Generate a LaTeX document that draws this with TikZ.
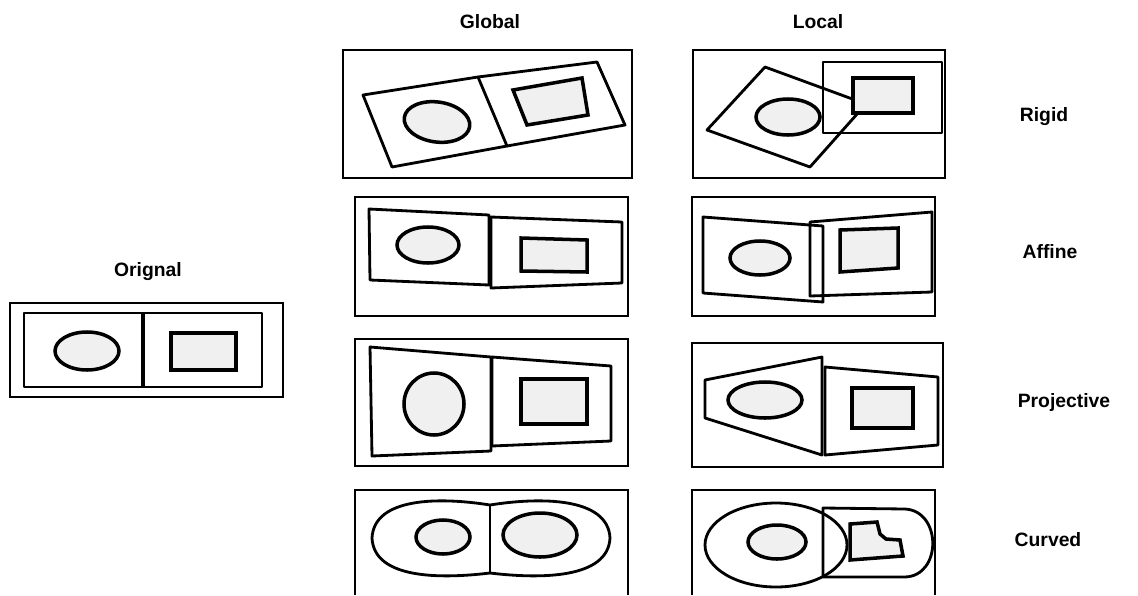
\documentclass[tikz,border=0pt]{standalone}
\usepackage{fontspec}
\setmainfont{Liberation Sans}
\usetikzlibrary{positioning}

\begin{document}
\begin{tikzpicture}[x=0.02cm, y=-0.02cm,
  frame/.style={draw, line width=1.1pt},
  part/.style={draw, line width=1.6pt, line join=round},
  blob/.style={draw, line width=2pt, fill=gray!12},
  lbl/.style={font=\bfseries\fontsize{11}{13}\selectfont}]
  \useasboundingbox (0,0) rectangle (1138,595);
  % headings
  \node[lbl] (glob) at (490,22) {Global};
  \node[lbl] (loc) at (818,22) {Local};
  \node[lbl] (orig) at (148,272) {Orignal};
  \node[lbl] (rigid) at (1044,117) {Rigid};
  \node[lbl] (affine) at (1050,252) {Affine};
  \node[lbl] (proj) at (1064,402) {Projective};
  \node[lbl] (curved) at (1048,540) {Curved};
  % original
  \draw[frame, line width=1.6pt] (10,303) rectangle (283,397);
  \draw[part] (24,313) rectangle (262,387);
  \draw[part, line width=2.2pt] (143,313) -- (143,387);
  \draw[blob] (87,351) ellipse [x radius=32, y radius=19];
  \draw[blob] (171,333) rectangle (236,370);
  % rigid, global
  \draw[frame] (343,50) rectangle (632,178);
  \draw[part] (363,95) -- (478,77) -- (507,146) -- (392,167) -- cycle;
  \draw[part] (478,77) -- (597,62) -- (625,125) -- (507,146);
  \draw[blob, rotate around={-8:(437,122)}] (437,122) ellipse [x radius=33, y radius=20];
  \draw[blob] (513,90) -- (582,78) -- (588,115) -- (527,125) -- cycle;
  % rigid, local
  \draw[frame] (693,50) rectangle (945,178);
  \draw[part] (823,62) rectangle (942,133);
  \draw[part] (765,67) -- (866,104) -- (810,167) -- (707,130) -- cycle;
  \draw[blob] (788,117) ellipse [x radius=32, y radius=18];
  \draw[blob, line width=2.6pt] (853,78) rectangle (913,113);
  % affine, global
  \draw[frame] (355,197) rectangle (628,316);
  \draw[part] (369,209) -- (489,215) -- (489,285) -- (370,280) -- cycle;
  \draw[part] (491,217) -- (622,222) -- (622,283) -- (491,288) -- cycle;
  \draw[blob] (428,245) ellipse [x radius=31, y radius=18];
  \draw[blob] (521,238) -- (587,240) -- (587,272) -- (521,271) -- cycle;
  % affine, local
  \draw[frame] (692,197) rectangle (935,316);
  \draw[part] (703,217) -- (823,226) -- (823,302) -- (703,293) -- cycle;
  \draw[part] (810,222) -- (932,212) -- (932,292) -- (810,296) -- cycle;
  \draw[blob] (760,258) ellipse [x radius=30, y radius=17];
  \draw[blob] (840,230) -- (898,228) -- (898,268) -- (840,272) -- cycle;
  % projective, global
  \draw[frame] (355,339) rectangle (628,466);
  \draw[part] (370,347) -- (491,357) -- (491,451) -- (372,456) -- cycle;
  \draw[part] (492,357) -- (611,366) -- (611,441) -- (492,446) -- cycle;
  \draw[blob] (434,404) ellipse [x radius=30, y radius=31];
  \draw[blob] (521,379) rectangle (587,424);
  % projective, local
  \draw[frame] (692,343) rectangle (943,467);
  \draw[part] (705,380) -- (822,357) -- (822,455) -- (705,418) -- cycle;
  \draw[part] (825,367) -- (938,377) -- (938,445) -- (825,455) -- cycle;
  \draw[blob] (765,400) ellipse [x radius=37, y radius=18];
  \draw[blob] (852,388) rectangle (913,428);
  % curved, global
  \draw[frame] (355,595) -- (355,490) -- (628,490) -- (628,595);
  \draw[part] (490,505) .. controls (440,497) and (374,497) .. (372,538)
    .. controls (374,579) and (440,579) .. (490,573);
  \draw[part] (490,505) .. controls (540,497) and (608,497) .. (610,538)
    .. controls (608,579) and (540,579) .. (490,573);
  \draw[part] (490,505) -- (490,573);
  \draw[blob] (443,537) ellipse [x radius=27, y radius=17];
  \draw[blob] (540,535) ellipse [x radius=37, y radius=22];
  % curved, local
  \draw[frame] (692,595) -- (692,490) -- (935,490) -- (935,595);
  \draw[part] (823,508) -- (905,509) .. controls (942,511) and (942,576) .. (905,577)
    -- (823,577) -- cycle;
  \draw[part] (776,545) ellipse [x radius=71, y radius=42];
  \draw[blob] (777,542) ellipse [x radius=29, y radius=17];
  \draw[blob] (850,524) -- (877,522) -- (880,534) -- (886,539) -- (900,540)
    -- (903,556) -- (850,560) -- cycle;
\end{tikzpicture}
\end{document}
